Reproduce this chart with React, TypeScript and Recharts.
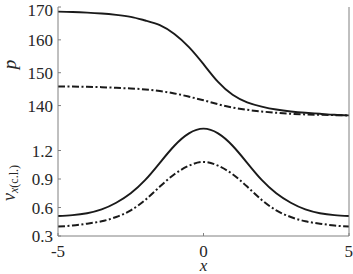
import { LineChart, Line, XAxis, YAxis } from 'recharts'

const xValues = [-5, -4.5, -4, -3.5, -3, -2.5, -2, -1.5, -1, -0.5, 0, 0.5, 1, 1.5, 2, 2.5, 3, 3.5, 4, 4.5, 5]

// top panel: p
const pSolid = [168.6, 168.5, 168.3, 168.0, 167.6, 167.0, 165.9, 164.5, 161.8, 157.8, 152.6, 147.2, 143.3, 141.0, 139.7, 138.8, 138.2, 137.8, 137.5, 137.2, 137.0]
const pDashDot = [145.8, 145.8, 145.7, 145.6, 145.4, 145.2, 144.9, 144.4, 143.7, 142.7, 141.6, 140.4, 139.4, 138.7, 138.2, 137.8, 137.5, 137.3, 137.2, 137.1, 137.0]

// bottom panel: v_x(c.l.)
const vSolid = [0.51, 0.52, 0.54, 0.58, 0.65, 0.75, 0.89, 1.07, 1.25, 1.38, 1.43, 1.38, 1.25, 1.07, 0.89, 0.75, 0.65, 0.58, 0.54, 0.52, 0.51]
const vDashDot = [0.40, 0.41, 0.43, 0.455, 0.50, 0.57, 0.68, 0.82, 0.95, 1.04, 1.08, 1.04, 0.95, 0.82, 0.68, 0.57, 0.50, 0.455, 0.43, 0.41, 0.40]

const xTicks = [-5, 0, 5]
const pTicks = [140, 150, 160, 170]
const vTicks = [0.3, 0.6, 0.9, 1.2]

const topData = xValues.map((x, i) => ({ x, solid: pSolid[i], dashDot: pDashDot[i] }))
const bottomData = xValues.map((x, i) => ({ x, solid: vSolid[i], dashDot: vDashDot[i] }))

const AXIS = '#808080'
const TEXT = '#262626'
const tickStyle = { fill: TEXT, fontSize: 17 }
const blank = () => ''

function PLabel(props: any) {
  const { viewBox } = props
  const cx = 16
  const cy = viewBox.y + viewBox.height / 2
  return (
    <text x={cx} y={cy} transform={`rotate(-90, ${cx}, ${cy})`} textAnchor="middle"
      fill={TEXT} fontStyle="italic" fontSize={19}>p</text>
  )
}

function VLabel(props: any) {
  const { viewBox } = props
  const cx = 15
  const cy = viewBox.y + viewBox.height / 2 + 4
  return (
    <text x={cx} y={cy} transform={`rotate(-90, ${cx}, ${cy})`} textAnchor="middle"
      fill={TEXT} fontSize={18}>
      <tspan fontStyle="italic">v</tspan>
      <tspan fontSize={12} dy={3} fontStyle="italic">x</tspan>
      <tspan fontSize={12}>(c.l.)</tspan>
    </text>
  )
}

function XLabel(props: any) {
  const { viewBox } = props
  return (
    <text x={viewBox.x + viewBox.width / 2} y={viewBox.y + 35} textAnchor="middle"
      fill={TEXT} fontStyle="italic" fontSize={17}>x</text>
  )
}

export default function App() {
  return (
    <div style={{ position: 'absolute', left: 0, top: 0, width: 353, height: 274, background: '#fff',
      fontFamily: '"Liberation Serif", "DejaVu Serif", serif' }}>
      <div style={{ position: 'absolute', left: 0, top: 0 }}>
        <LineChart width={353} height={123} data={topData} margin={{ top: 7, right: 0, bottom: 1, left: 0 }}>
          <XAxis dataKey="x" type="number" domain={[-5, 5]} ticks={xTicks} height={0}
            stroke={AXIS} tickSize={-3} tickFormatter={blank} />
          <XAxis xAxisId="top" dataKey="x" type="number" domain={[-5, 5]} orientation="top" ticks={xTicks}
            height={0} stroke={AXIS} tickSize={-3} tickFormatter={blank} />
          <YAxis domain={[135, 170]} ticks={pTicks} width={58} stroke={AXIS} tickSize={-3} tickMargin={8}
            tick={tickStyle} label={<PLabel />} />
          <YAxis yAxisId="right" orientation="right" domain={[135, 170]} ticks={pTicks} width={4}
            stroke={AXIS} tickSize={-3} tickFormatter={blank} />
          <Line dataKey="solid" type="natural" stroke="#1a1a1a" strokeWidth={1.9} dot={false} isAnimationActive={false} />
          <Line dataKey="dashDot" type="natural" stroke="#1a1a1a" strokeWidth={2} strokeDasharray="7 2.5 2 2.5"
            dot={false} isAnimationActive={false} />
        </LineChart>
      </div>
      <div style={{ position: 'absolute', left: 0, top: 122 }}>
        <LineChart width={353} height={152} data={bottomData} margin={{ top: 0, right: 0, bottom: 0, left: 0 }}>
          <XAxis dataKey="x" type="number" domain={[-5, 5]} ticks={xTicks} height={38}
            stroke={AXIS} tickSize={-3} tickMargin={12} tick={tickStyle} label={<XLabel />} />
          <XAxis xAxisId="top" dataKey="x" type="number" domain={[-5, 5]} orientation="top" ticks={xTicks}
            height={0} stroke={AXIS} tickSize={-3} tickFormatter={blank} />
          <YAxis domain={[0.3, 1.5]} ticks={vTicks} width={58} stroke={AXIS} tickSize={-3} tickMargin={8}
            tick={tickStyle} tickFormatter={(v: number) => v.toFixed(1)} label={<VLabel />} />
          <YAxis yAxisId="right" orientation="right" domain={[0.3, 1.5]} ticks={vTicks} width={4}
            stroke={AXIS} tickSize={-3} tickFormatter={blank} />
          <Line dataKey="solid" type="natural" stroke="#1a1a1a" strokeWidth={1.9} dot={false} isAnimationActive={false} />
          <Line dataKey="dashDot" type="natural" stroke="#1a1a1a" strokeWidth={2} strokeDasharray="7 2.5 2 2.5"
            dot={false} isAnimationActive={false} />
        </LineChart>
      </div>
    </div>
  )
}
